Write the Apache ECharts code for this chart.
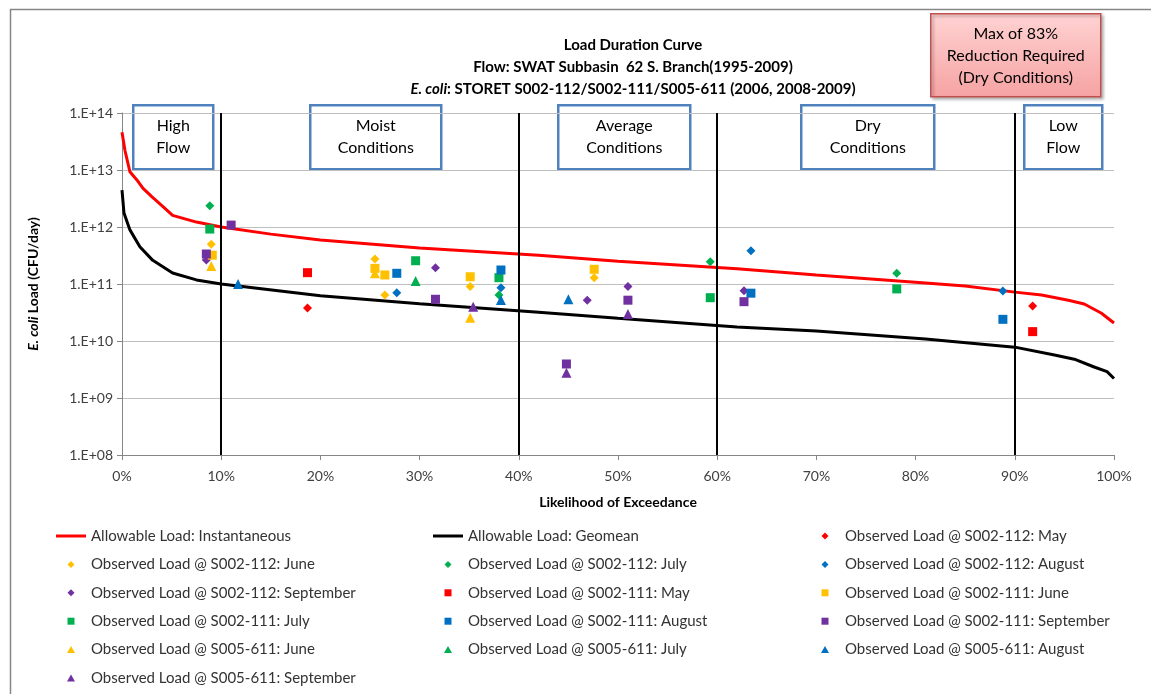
<!DOCTYPE html>
<html>
<head>
<meta charset="utf-8">
<script src="https://cdn.jsdelivr.net/npm/echarts@6/dist/echarts.min.js"></script>
<style>
html, body { margin: 0; padding: 0; background: #fff; }
#chart { width: 1151px; height: 694px; }
</style>
</head>
<body>
<div id="chart"></div>
<script>
// allowable load curves, [exceedance %, CFU/day]
var instantaneous = [
    [0, 4.6e13], [0.3, 2.2e13], [0.8, 9.3e12], [1.5, 6.7e12], [2.1, 4.8e12], [3.0, 3.4e12],
    [4.3, 2.15e12], [5.1, 1.6e12], [7.5, 1.22e12], [10, 1.0e12], [15, 7.5e11], [20, 5.9e11],
    [30, 4.3e11], [42, 3.2e11], [50, 2.5e11], [62, 1.85e11], [70, 1.44e11], [81, 1.04e11],
    [85, 9.2e10], [90, 7.2e10], [92.7, 6.4e10], [95.4, 5.2e10], [97, 4.45e10], [98.7, 3.1e10], [100, 2.07e10]
];
var geomean = [
    [0, 4.45e12], [0.2, 1.76e12], [0.8, 8.9e11], [1.8, 4.5e11], [3.1, 2.6e11], [5.1, 1.56e11],
    [7.5, 1.18e11], [10, 1.0e11], [20, 6.2e10], [30, 4.5e10], [42, 3.2e10], [50, 2.5e10],
    [62, 1.76e10], [70, 1.5e10], [81, 1.08e10], [90, 7.8e9], [94, 5.7e9], [96, 4.8e9],
    [98, 3.5e9], [99.3, 2.9e9], [100, 2.2e9]
];

// observed loads
var s112May  = [[18.7, 3.8e10], [91.8, 4.1e10]];
var s112June = [[9.0, 5.0e11], [25.5, 2.75e11], [26.5, 6.4e10], [35.1, 9.0e10], [47.6, 1.29e11]];
var s112July = [[8.85, 2.36e12], [38.0, 6.4e10], [59.3, 2.46e11], [78.1, 1.54e11]];
var s112Aug  = [[27.7, 7.0e10], [38.2, 8.6e10], [63.4, 3.84e11], [88.8, 7.5e10]];
var s112Sep  = [[8.5, 2.64e11], [31.6, 1.93e11], [46.9, 5.2e10], [51.0, 9.0e10], [62.7, 7.6e10]];
var s111May  = [[18.7, 1.58e11], [91.8, 1.46e10]];
var s111June = [[9.1, 3.2e11], [25.5, 1.88e11], [26.5, 1.44e11], [35.1, 1.34e11], [47.6, 1.81e11]];
var s111July = [[8.85, 9.2e11], [29.6, 2.56e11], [38.0, 1.29e11], [59.3, 5.75e10], [78.1, 8.2e10]];
var s111Aug  = [[27.7, 1.54e11], [38.2, 1.76e11], [63.4, 6.9e10], [88.8, 2.4e10]];
var s111Sep  = [[8.5, 3.36e11], [11.0, 1.08e12], [31.6, 5.4e10], [44.8, 3.95e9], [51.0, 5.2e10], [62.7, 4.9e10]];
var s611June = [[9.0, 2.07e11], [25.5, 1.54e11], [35.1, 2.57e10]];
var s611July = [[29.6, 1.13e11]];
var s611Aug  = [[11.7, 1.0e11], [38.2, 5.24e10], [45.0, 5.4e10]];
var s611Sep  = [[35.4, 4.0e10], [44.8, 2.78e9], [51.0, 2.97e10]];

var flowBreaks = [10, 40, 60, 90];
var yTicks = ['1.E+08', '1.E+09', '1.E+10', '1.E+11', '1.E+12', '1.E+13', '1.E+14'];

var FONT = 'Lato';
var RED = '#ff0000', YELLOW = '#ffc000', GREEN = '#00b050', BLUE = '#0070c0', PURPLE = '#7030a0';

// legend icons: 30x8 box, the moves keep the box so the marker is not stretched
var ICONS = {
    diamond: 'path://M0,0 M30,8 M15,0.5 L18.5,4 L15,7.5 L11.5,4 Z',
    rect: 'path://M0,0 M30,8 M11.5,0.5 L18.5,0.5 L18.5,7.5 L11.5,7.5 Z',
    triangle: 'path://M0,0 M30,8 M15,0.5 L19,7.5 L11,7.5 Z',
    line: 'path://M0,0 M30,8 M0,2.5 L30,2.5 L30,5.5 L0,5.5 Z'
};

var scatterDefs = [
    ['Observed Load @ S002-112: May', s112May, RED, 'diamond'],
    ['Observed Load @ S002-112: June', s112June, YELLOW, 'diamond'],
    ['Observed Load @ S002-112: July', s112July, GREEN, 'diamond'],
    ['Observed Load @ S002-112: August', s112Aug, BLUE, 'diamond'],
    ['Observed Load @ S002-112: September', s112Sep, PURPLE, 'diamond'],
    ['Observed Load @ S002-111: May', s111May, RED, 'rect'],
    ['Observed Load @ S002-111: June', s111June, YELLOW, 'rect'],
    ['Observed Load @ S002-111: July', s111July, GREEN, 'rect'],
    ['Observed Load @ S002-111: August', s111Aug, BLUE, 'rect'],
    ['Observed Load @ S002-111: September', s111Sep, PURPLE, 'rect'],
    ['Observed Load @ S005-611: June', s611June, YELLOW, 'triangle'],
    ['Observed Load @ S005-611: July', s611July, GREEN, 'triangle'],
    ['Observed Load @ S005-611: August', s611Aug, BLUE, 'triangle'],
    ['Observed Load @ S005-611: September', s611Sep, PURPLE, 'triangle']
];
var symSize = { diamond: 9, rect: 9, triangle: 10 };

var series = [
    {
        name: 'Allowable Load: Instantaneous',
        type: 'line',
        data: instantaneous,
        showSymbol: false,
        symbol: 'none',
        lineStyle: { color: RED, width: 3 },
        itemStyle: { color: RED },
        z: 3,
        markLine: {
            silent: true,
            symbol: 'none',
            label: { show: false },
            lineStyle: { color: '#000', width: 2, type: 'solid' },
            data: flowBreaks.map(function (v) { return { xAxis: v }; })
        }
    },
    {
        name: 'Allowable Load: Geomean',
        type: 'line',
        data: geomean,
        showSymbol: false,
        symbol: 'none',
        lineStyle: { color: '#000', width: 3 },
        itemStyle: { color: '#000' },
        z: 3
    }
];
var legendItems = [
    { name: series[0].name, icon: ICONS.line, itemStyle: { color: RED, borderWidth: 0 } },
    { name: series[1].name, icon: ICONS.line, itemStyle: { color: '#000', borderWidth: 0 } }
];
scatterDefs.forEach(function (d) {
    series.push({
        name: d[0],
        type: 'scatter',
        data: d[1],
        symbol: d[3],
        symbolSize: symSize[d[3]],
        itemStyle: { color: d[2], opacity: 1 },
        z: 4
    });
    legendItems.push({ name: d[0], icon: ICONS[d[3]], itemStyle: { color: d[2], borderWidth: 0 } });
});

// three legend columns, filled row by row like the original
function legendCol(c, left) {
    return {
        orient: 'vertical',
        left: left,
        top: 528,
        padding: 0,
        itemWidth: 30,
        itemHeight: 8,
        itemGap: 12.4,
        textStyle: { fontFamily: FONT, fontSize: 15, color: '#333', lineHeight: 16 },
        data: legendItems.filter(function (it, i) { return i % 3 === c; })
    };
}

function boxText(x, y, w, h, lines) {
    return {
        type: 'group',
        left: x, top: y,
        children: [
            { type: 'rect', shape: { x: 0, y: 0, width: w, height: h },
              style: { fill: '#fff', stroke: '#4f81bd', lineWidth: 2.5 } },
            { type: 'text', x: w / 2, y: h / 2,
              style: { text: lines, fill: '#000', font: '16px ' + FONT, align: 'center',
                       verticalAlign: 'middle', lineHeight: 22 } }
        ]
    };
}

var chart = echarts.init(document.getElementById('chart'));
chart.setOption({
    animation: false,
    backgroundColor: '#fff',
    title: {
        left: 628,
        top: 29,
        textAlign: 'center',
        text: '{b|Load Duration Curve}\n{b|Flow: SWAT Subbasin  62 S. Branch(1995-2009)}\n{i|E. coli}{b|: STORET S002-112/S002-111/S005-611 (2006, 2008-2009)}',
        textStyle: {
            rich: {
                b: { fontFamily: FONT, fontSize: 15, fontWeight: 'bold', color: '#000', lineHeight: 22 },
                i: { fontFamily: FONT, fontSize: 15, fontWeight: 'bold', fontStyle: 'italic', color: '#000', lineHeight: 22 }
            }
        }
    },
    grid: { left: 122, right: 37, top: 113, bottom: 239, containLabel: false },
    legend: [legendCol(0, 56), legendCol(1, 433), legendCol(2, 810)],
    xAxis: {
        type: 'value',
        min: 0,
        max: 100,
        interval: 10,
        name: 'Likelihood of Exceedance',
        nameLocation: 'middle',
        nameGap: 40,
        nameTextStyle: { fontFamily: FONT, fontSize: 14, fontWeight: 'bold', color: '#000' },
        axisLine: { lineStyle: { color: '#868686', width: 1 } },
        axisTick: { show: true, length: 5, lineStyle: { color: '#868686' } },
        splitLine: { show: false },
        axisLabel: { formatter: '{value}%', fontFamily: FONT, fontSize: 14, color: '#404040', margin: 14 }
    },
    yAxis: {
        type: 'log',
        logBase: 10,
        min: 1e8,
        max: 1e14,
        name: '{i|E. coli} {b|Load (CFU/day)}',
        nameLocation: 'middle',
        nameRotate: 90,
        nameGap: 82,
        nameTextStyle: {
            rich: {
                i: { fontFamily: FONT, fontSize: 14, fontWeight: 'bold', fontStyle: 'italic', color: '#000' },
                b: { fontFamily: FONT, fontSize: 14, fontWeight: 'bold', color: '#000' }
            }
        },
        axisLine: { show: true, lineStyle: { color: '#868686', width: 1 } },
        axisTick: { show: true, length: 5, lineStyle: { color: '#868686' } },
        splitLine: { show: true, lineStyle: { color: '#bfbfbf', width: 1 } },
        axisLabel: {
            fontFamily: FONT, fontSize: 14, color: '#404040', margin: 9,
            formatter: function (v) {
                var e = Math.round(Math.log(v) / Math.LN10);
                return yTicks[e - 8];
            }
        }
    },
    graphic: [
        { type: 'rect', left: 8, top: 7, shape: { width: 1300, height: 800 },
          style: { fill: 'none', stroke: '#868686', lineWidth: 1.5 }, z: -10 },
        boxText(132, 104, 80, 64, 'High\nFlow'),
        boxText(309, 104, 131, 64, 'Moist\nConditions'),
        boxText(557, 104, 132, 64, 'Average\nConditions'),
        boxText(800, 104, 133, 64, 'Dry\nConditions'),
        boxText(1023, 104, 78, 64, 'Low\nFlow'),
        {
            type: 'group', left: 930, top: 13,
            children: [
                { type: 'rect', shape: { x: 0, y: 0, width: 170, height: 83 },
                  style: {
                      fill: new echarts.graphic.LinearGradient(0, 0, 0, 1, [
                          { offset: 0, color: '#ffd3d3' }, { offset: 1, color: '#f6a2a2' }
                      ]),
                      stroke: '#c0504d', lineWidth: 1.5,
                      shadowBlur: 3, shadowOffsetX: 2, shadowOffsetY: 2, shadowColor: 'rgba(0,0,0,0.3)'
                  } },
                { type: 'text', x: 85, y: 42,
                  style: { text: 'Max of 83%\nReduction Required\n(Dry Conditions)', fill: '#000',
                           font: '16px ' + FONT, align: 'center', verticalAlign: 'middle', lineHeight: 22 } }
            ]
        }
    ],
    series: series
});
</script>
</body>
</html>
